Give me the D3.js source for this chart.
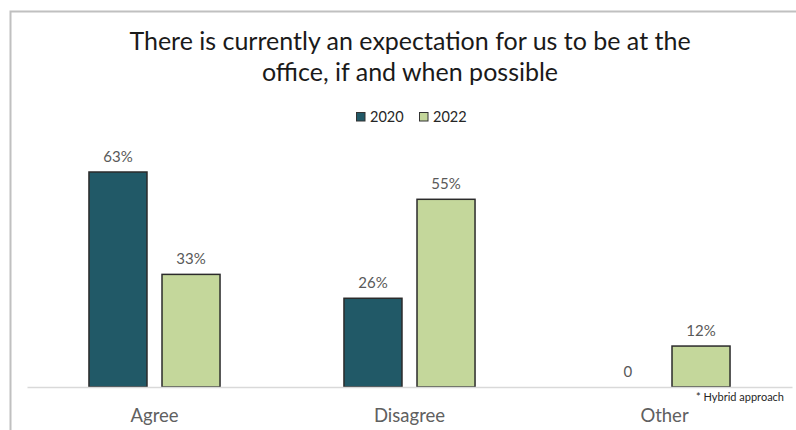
<!DOCTYPE html>
<html>
<head>
<meta charset="utf-8">
<script src="https://cdn.jsdelivr.net/npm/d3@7"></script>
<style>
  body { margin: 0; background: #fff; }
  text { font-family: Lato, 'Open Sans', sans-serif; }
</style>
</head>
<body>
<div id="chart"></div>
<script>
const categories = ['Agree', 'Disagree', 'Other'];
const seriesNames = ['2020', '2022'];
const values2020 = [63, 26, 0];
const values2022 = [33, 55, 12];
const seriesColors = ['#215967', '#c4d79b'];
const titleLines = ['There is currently an expectation for us to be at the', 'office, if and when possible'];
const footnote = '* Hybrid approach';

const dim = { width: 796, height: 430, left: 27, right: 792, base: 387 };

const rows = categories.map((c, i) => ({ cat: c, vals: [values2020[i], values2022[i]] }));

const svg = d3.select('#chart')
    .append('svg')
        .attr('width', dim.width)
        .attr('height', dim.height);

// frame
svg.append('rect')
    .attr('x', 10.5).attr('y', 11.5)
    .attr('width', 820).attr('height', 440)
    .attr('fill', 'none')
    .attr('stroke', '#c0c0c0')
    .attr('stroke-width', 2);

const x0 = d3.scaleBand()
    .domain(categories)
    .range([dim.left, dim.right])
    .paddingInner(0.486)
    .paddingOuter(0.243);

const x1 = d3.scaleBand()
    .domain(seriesNames)
    .range([0, x0.bandwidth()])
    .paddingInner(0.2055);

const y = d3.scaleLinear()
    .domain([0, 63])
    .range([dim.base, 172]);

const g = svg.append('g');

// title
g.selectAll('.title')
    .data(titleLines)
    .enter()
    .append('text')
        .attr('class', 'title')
        .attr('x', 410)
        .attr('y', (d, i) => 50 + i * 31)
        .attr('text-anchor', 'middle')
        .attr('font-size', '25px')
        .attr('fill', '#1a1a1a')
        .text(d => d);

// legend
const legend = g.append('g').attr('transform', 'translate(356, 112)');
const legendX = [0, 63];
seriesNames.forEach((s, i) => {
    legend.append('rect')
        .attr('x', legendX[i] + 0.5).attr('y', 0.5)
        .attr('width', 8.5).attr('height', 8.5)
        .attr('fill', seriesColors[i])
        .attr('stroke', '#333')
        .attr('stroke-width', 1);
    legend.append('text')
        .attr('x', legendX[i] + 14)
        .attr('y', 9.5)
        .attr('font-size', '14.5px')
        .attr('fill', '#262626')
        .text(s);
});

// bars
const groups = g.selectAll('.grp')
    .data(rows)
    .enter()
    .append('g')
        .attr('class', 'grp')
        .attr('transform', d => `translate(${x0(d.cat)}, 0)`);

groups.selectAll('rect')
    .data(d => d.vals.map((v, i) => ({ key: seriesNames[i], v, i })).filter(e => e.v > 0))
    .enter()
    .append('rect')
        .attr('x', d => x1(d.key))
        .attr('y', d => y(d.v))
        .attr('width', x1.bandwidth())
        .attr('height', d => y(0) - y(d.v))
        .attr('fill', d => seriesColors[d.i])
        .attr('stroke', '#2b2b2b')
        .attr('stroke-width', 1.5);

groups.selectAll('.val')
    .data(d => d.vals.map((v, i) => ({ key: seriesNames[i], v })))
    .enter()
    .append('text')
        .attr('class', 'val')
        .attr('x', d => x1(d.key) + x1.bandwidth() / 2)
        .attr('y', d => y(d.v) - 10)
        .attr('text-anchor', 'middle')
        .attr('font-size', '15px')
        .attr('fill', '#595959')
        .text(d => d.v === 0 ? '0' : `${d.v}%`);

// axis
const axis = g.append('g')
    .attr('transform', `translate(0, ${dim.base})`)
    .call(d3.axisBottom(x0).tickSize(0).tickPadding(22));
axis.select('.domain').attr('stroke', '#d9d9d9').attr('stroke-width', 1.5);
axis.selectAll('.tick text')
    .attr('font-family', 'Lato, sans-serif')
    .attr('font-size', '18.5px')
    .attr('fill', '#606060');

g.append('text')
    .attr('x', 784)
    .attr('y', 401)
    .attr('text-anchor', 'end')
    .attr('font-size', '11px')
    .attr('fill', '#262626')
    .text(footnote);
</script>
</body>
</html>
